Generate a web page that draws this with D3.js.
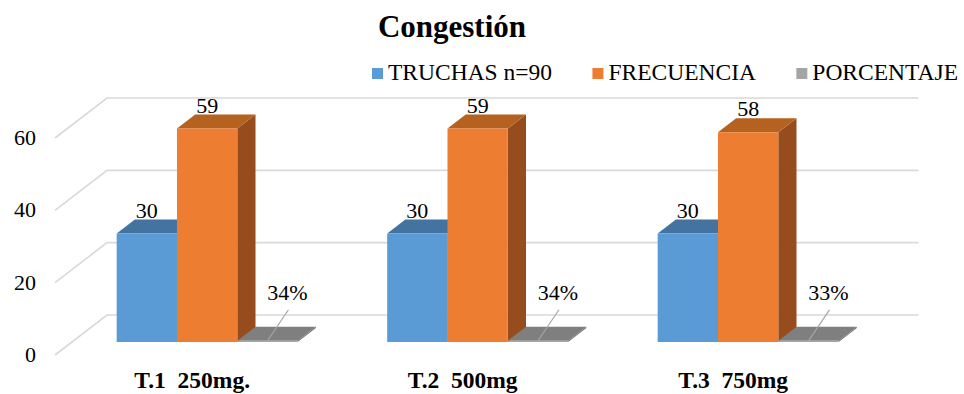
<!DOCTYPE html>
<html>
<head>
<meta charset="utf-8">
<script src="https://cdn.jsdelivr.net/npm/d3@7"></script>
<style>
  html, body { margin: 0; padding: 0; background: #fff; }
  svg { display: block; }
  svg text { font-family: "Liberation Serif", "DejaVu Serif", "Times New Roman", serif; }
</style>
</head>
<body>
<script>
// ---- data ----
const categories = ["T.1  250mg.", "T.2  500mg", "T.3  750mg"];
const seriesNames = ["TRUCHAS n=90", "FRECUENCIA", "PORCENTAJE"];
const truchas = [30, 30, 30];
const frecuencia = [59, 59, 58];
const porcentaje = [0.34, 0.34, 0.33];
const yTicks = [0, 20, 40, 60];
const titleText = "Congestión";

// ---- layout ----
const W = 964, H = 394;
const depthDX = 52, depthDY = -40;   // full floor depth (front -> back wall)
const zFront = 0.325, zBack = 0.675; // bars' depth slab

const colors = {
  front: ["#5B9BD5", "#ED7D31", "#A5A5A5"],
  top:   ["#44739F", "#B5611F", "#7F7F7F"],
  side:  ["#3B6590", "#964C1C", "#6E6E6E"]
};

const svg = d3.select("body").append("svg").attr("width", W).attr("height", H);

const x0 = d3.scaleBand().domain(categories).range([55, 866.5]).paddingInner(0.331).paddingOuter(0.1655);
const x1 = d3.scaleBand().domain(seriesNames).range([0, x0.bandwidth()]).padding(0);
const y = d3.scaleLinear().domain([0, 60]).range([355, 138]);

const P = (sx, v, z) => [sx + z * depthDX, y(v) + z * depthDY];

// ---- gridlines ----
const grid = svg.append("g");
yTicks.forEach(t => {
  const a = P(x0.range()[0], t, 0), b = P(x0.range()[0], t, 1), c = P(x0.range()[1], t, 1);
  grid.append("path")
    .attr("d", `M${a[0]},${a[1]}L${b[0]},${b[1]}L${c[0]},${c[1]}`)
    .attr("fill", "none").attr("stroke", "#D9D9D9").attr("stroke-width", 1.6);
});

// tick labels
svg.append("g").selectAll("text").data(yTicks).join("text")
  .attr("x", 36).attr("y", d => y(d) + 2)
  .attr("text-anchor", "end").attr("dominant-baseline", "middle")
  .attr("font-size", 22).text(d => d);

// ---- bars ----
const series = [truchas, frecuencia, porcentaje];
const bars = [];
categories.forEach((c, ci) => {
  seriesNames.forEach((s, si) => {
    bars.push({ c, ci, s, si, v: series[si][ci] });
  });
});

const gBars = svg.append("g");
const poly = pts => "M" + pts.map(p => p.join(",")).join("L") + "Z";
bars.forEach(d => {
  const xl = x0(d.c) + x1(d.s), xr = xl + x1.bandwidth();
  const fbl = P(xl, 0, zFront), fbr = P(xr, 0, zFront), ftr = P(xr, d.v, zFront), ftl = P(xl, d.v, zFront);
  const btl = P(xl, d.v, zBack), btr = P(xr, d.v, zBack), bbr = P(xr, 0, zBack);
  gBars.append("path").attr("d", poly([fbr, bbr, btr, ftr])).attr("fill", colors.side[d.si]);
  gBars.append("path").attr("d", poly([ftl, ftr, btr, btl])).attr("fill", colors.top[d.si]);
  gBars.append("path").attr("d", poly([fbl, fbr, ftr, ftl])).attr("fill", colors.front[d.si]);
});

// ---- data labels ----
const pct = d3.format(".0%");
const gLab = svg.append("g");
bars.forEach(d => {
  const cx = x0(d.c) + x1(d.s) + x1.bandwidth() / 2;
  const ft = P(cx, d.v, zFront), bt = P(cx, d.v, zBack);
  if (d.si < 2) {
    gLab.append("text").attr("x", ft[0]).attr("y", bt[1] - 2)
      .attr("text-anchor", "middle").attr("font-size", 22).text(d.v);
  } else {
    const lx = ft[0] + 20, ly = ft[1] - 41;
    gLab.append("line").attr("x1", lx + 1).attr("y1", ly + 10).attr("x2", ft[0]).attr("y2", ft[1])
      .attr("stroke", "#A6A6A6").attr("stroke-width", 1.2);
    gLab.append("text").attr("x", lx).attr("y", ly)
      .attr("text-anchor", "middle").attr("font-size", 22).text(pct(d.v));
  }
});

// ---- category labels ----
svg.append("g").selectAll("text").data(categories).join("text")
  .attr("x", d => x0(d) + x0.bandwidth() / 2 + zFront * depthDX - 15)
  .attr("y", 388).attr("text-anchor", "middle")
  .attr("font-size", 23.5).attr("font-weight", "bold")
  .style("white-space", "pre").attr("xml:space", "preserve")
  .text(d => d);

// ---- title ----
svg.append("text").attr("x", 452).attr("y", 37).attr("text-anchor", "middle")
  .attr("font-size", 31).attr("font-weight", "bold").text(titleText);

// ---- legend (spans x 372 .. 958) ----
const gLeg = svg.append("g");
const legStart = 372, legEnd = 958, sw = 11, tGap = 5;
const items = seriesNames.map((s, i) => {
  const g = gLeg.append("g");
  g.append("rect").attr("y", 68).attr("width", sw).attr("height", sw).attr("fill", colors.front[i]);
  const t = g.append("text").attr("x", sw + tGap).attr("y", 80).attr("font-size", 23.5).text(s);
  return { g, w: sw + tGap + t.node().getComputedTextLength() };
});
const totalW = d3.sum(items, d => d.w);
const gap = (legEnd - legStart - totalW) / (items.length - 1);
let cur = legStart;
items.forEach(it => { it.g.attr("transform", `translate(${cur},0)`); cur += it.w + gap; });
</script>
</body>
</html>
